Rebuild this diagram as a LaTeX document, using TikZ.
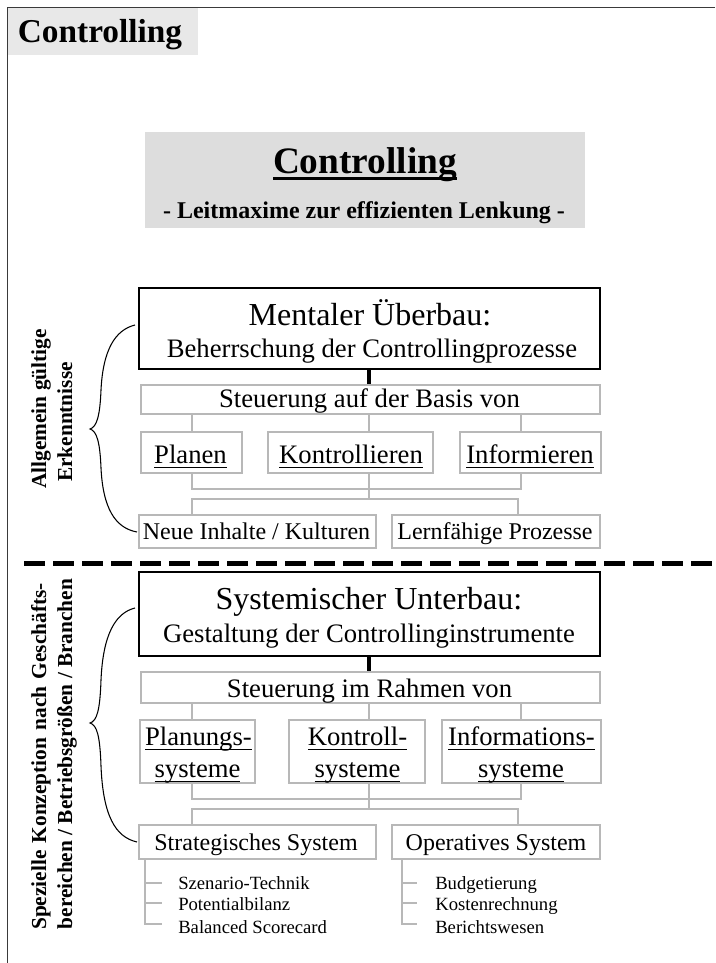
\documentclass[tikz,border=0pt]{standalone}
\usepackage{fontspec}
\setmainfont{Liberation Serif}
\usetikzlibrary{calc}

\definecolor{framegray}{HTML}{3A3A3A}
\definecolor{linegray}{HTML}{B8B8B8}
\definecolor{headfill}{HTML}{DDDDDD}
\definecolor{tabfill}{HTML}{E8E8E8}

% underline at a fixed distance below the baseline: text, drop, thickness
\newcommand\ulbox[3]{\sbox0{#1}\rlap{\rule[-#2]{\wd0}{#3}}\usebox0}

\tikzset{
  graybox/.style={draw=linegray, line width=2.2pt, fill=white, inner sep=0pt, rectangle},
  blackbox/.style={draw=black, line width=1.1pt, fill=white, inner sep=0pt, rectangle},
  link/.style={draw=linegray, line width=2.2pt},
  txt/.style={inner sep=0pt, anchor=base},
  big/.style={font=\fontsize{24}{28}\selectfont},
  mid/.style={font=\fontsize{20}{24}\selectfont},
  small/.style={font=\fontsize{18}{21}\selectfont},
  tiny/.style={font=\fontsize{14}{17}\selectfont},
  side/.style={inner sep=0pt, anchor=base, rotate=90, font=\bfseries\fontsize{16}{18}\selectfont},
  brace/.style={draw=black, line width=0.8pt},
}

\begin{document}
\begin{tikzpicture}[x=0.75pt, y=-0.75pt]
\useasboundingbox (0,0) rectangle (715,963);

% page tab and frame
\node[fill=tabfill, minimum width=142.5pt, minimum height=35.25pt, inner sep=0pt] (tab) at (102.5,31.5) {};
\node[txt, font=\bfseries\fontsize{25}{28}\selectfont] (tabtxt) at (100,43) {Controlling};
\draw[framegray, line width=1.3pt] (715,7.5) -- (7.5,7.5) -- (7.5,963);

% heading
\node[fill=headfill, minimum width=330pt, minimum height=72pt, inner sep=0pt] (head) at (365,180) {};
\node[txt, font=\bfseries\fontsize{28}{32}\selectfont] (headtxt) at (365,173) {\ulbox{Controlling}{5pt}{2.2pt}};
\node[txt, font=\bfseries\fontsize{18}{20}\selectfont] (headsub) at (364,218) {- Leitmaxime zur effizienten Lenkung -};

% column positions of the connectors
\coordinate (colA) at (192,0);
\coordinate (colB) at (369,0);
\coordinate (colC) at (521,0);
\coordinate (colD) at (518,0);
\coordinate (j1) at (0,489);
\coordinate (j2) at (0,499);
\coordinate (j3) at (0,799);
\coordinate (j4) at (0,809);

% ---------- upper block ----------
\node[blackbox, minimum width=345.75pt, minimum height=60.75pt] (ment) at (369.5,328.5) {};
\node[txt, big] (ment1) at (370,325) {Mentaler Überbau:};
\node[txt, mid] (ment2) at (372,357) {Beherrschung der Controllingprozesse};

\node[graybox, minimum width=344.25pt, minimum height=21.75pt] (steu1) at (370.5,399.5) {};
\node[txt, mid] (steu1t) at (369.5,407) {Steuerung auf der Basis von};

\node[graybox, minimum width=75.75pt, minimum height=30.75pt] (plan) at (191.5,452.5) {};
\node[txt, mid] (plant) at (190.5,463) {\ulbox{Planen}{3.8pt}{0.9pt}};
\node[graybox, minimum width=123.75pt, minimum height=30.75pt] (kont) at (350.5,452.5) {};
\node[txt, mid] (kontt) at (351,463) {\ulbox{Kontrollieren}{3.8pt}{0.9pt}};
\node[graybox, minimum width=105.75pt, minimum height=30.75pt] (info) at (530.5,452.5) {};
\node[txt, mid] (infot) at (530,463) {\ulbox{Informieren}{3.8pt}{0.9pt}};

\node[graybox, minimum width=177.75pt, minimum height=24.75pt] (neue) at (257.5,531.5) {};
\node[txt, small] (neuet) at (256.5,539) {Neue Inhalte / Kulturen};
\node[graybox, minimum width=156pt, minimum height=24.75pt] (lern) at (496,531.5) {};
\node[txt, small] (lernt) at (495,539) {Lernfähige Prozesse};

\draw[line width=2.4pt] (ment.south -| colB) -- (steu1.north -| colB);
\draw[link] (steu1.south -| colA) -- (plan.north -| colA);
\draw[link] (steu1.south -| colB) -- (kont.north -| colB);
\draw[link] (steu1.south -| colC) -- (info.north -| colC);
\draw[link] (plan.south -| colA) -- (colA |- j1) -- (colC |- j1) -- (info.south -| colC);
\draw[link] (kont.south -| colB) -- (colB |- j2);
\draw[link] (neue.north -| colA) -- (colA |- j2) -- (colD |- j2) -- (lern.north -| colD);

% separator
\draw[line width=3.2pt, dash pattern=on 16pt off 5.75pt] (24,563.5) -- (715,563.5);

% ---------- lower block ----------
\node[blackbox, minimum width=345.75pt, minimum height=63pt] (syst) at (369.5,614) {};
\node[txt, big] (syst1) at (369,609) {Systemischer Unterbau:};
\node[txt, mid] (syst2) at (369,642) {Gestaltung der Controllinginstrumente};

\node[graybox, minimum width=344.25pt, minimum height=23.25pt] (steu2) at (370.5,687.5) {};
\node[txt, mid] (steu2t) at (369.5,697) {Steuerung im Rahmen von};

\node[graybox, minimum width=86.25pt, minimum height=47.25pt] (plsy) at (197.5,751.5) {};
\node[txt, mid] (plsy1) at (198.5,745) {\ulbox{Planungs-}{3.8pt}{0.9pt}};
\node[txt, mid] (plsy2) at (197.5,777) {\ulbox{systeme}{3.8pt}{0.9pt}};
\node[graybox, minimum width=102pt, minimum height=47.25pt] (kosy) at (357,751.5) {};
\node[txt, mid] (kosy1) at (357.5,745) {\ulbox{Kontroll-}{3.8pt}{0.9pt}};
\node[txt, mid] (kosy2) at (357.5,777) {\ulbox{systeme}{3.8pt}{0.9pt}};
\node[graybox, minimum width=119.25pt, minimum height=47.25pt] (insy) at (521.5,751.5) {};
\node[txt, mid] (insy1) at (521.5,745) {\ulbox{Informations-}{3.8pt}{0.9pt}};
\node[txt, mid] (insy2) at (521,777) {\ulbox{systeme}{3.8pt}{0.9pt}};

\node[graybox, minimum width=177.75pt, minimum height=25.5pt] (strat) at (257.5,842) {};
\node[txt, small] (stratt) at (256,850) {Strategisches System};
\node[graybox, minimum width=156pt, minimum height=25.5pt] (oper) at (496,842) {};
\node[txt, small] (opert) at (496,850) {Operatives System};

\draw[line width=2.4pt] (syst.south -| colB) -- (steu2.north -| colB);
\draw[link] (steu2.south -| colA) -- (plsy.north -| colA);
\draw[link] (steu2.south -| colB) -- (kosy.north -| colB);
\draw[link] (steu2.south -| colC) -- (insy.north -| colC);
\draw[link] (plsy.south -| colA) -- (colA |- j3) -- (colC |- j3) -- (insy.south -| colC);
\draw[link] (kosy.south -| colB) -- (colB |- j4);
\draw[link] (strat.north -| colA) -- (colA |- j4) -- (colD |- j4) -- (oper.north -| colD);

% item lists under the two systems
\node[txt, tiny, anchor=base west] (sz) at (178,889) {Szenario-Technik};
\node[txt, tiny, anchor=base west] (pb) at (178,910) {Potentialbilanz};
\node[txt, tiny, anchor=base west] (bs) at (178,933) {Balanced Scorecard};
\node[txt, tiny, anchor=base west] (bu) at (435,889) {Budgetierung};
\node[txt, tiny, anchor=base west] (kr) at (435,910) {Kostenrechnung};
\node[txt, tiny, anchor=base west] (bw) at (435,933) {Berichtswesen};

\coordinate (railA) at (145,0);
\coordinate (tA1) at (162,883);
\coordinate (tA2) at (162,903);
\coordinate (tA3) at (162,924);
\coordinate (railB) at (402,0);
\coordinate (tB1) at (417,883);
\coordinate (tB2) at (417,903);
\coordinate (tB3) at (417,924);
\draw[link] (strat.south -| railA) |- (tA3);
\draw[link] (railA |- tA1) -- (tA1);
\draw[link] (railA |- tA2) -- (tA2);
\draw[link] (oper.south -| railB) |- (tB3);
\draw[link] (railB |- tB1) -- (tB1);
\draw[link] (railB |- tB2) -- (tB2);

% braces and side captions
\draw[brace] (135,325) .. controls (115,330) and (103,350) .. (101,390)
  .. controls (100,415) and (97,427) .. (90,429)
  .. controls (97,431) and (100,443) .. (101,468)
  .. controls (103,508) and (115,528) .. (137,532);
\draw[brace] (135,608) .. controls (115,613) and (103,635) .. (101,680)
  .. controls (100,710) and (97,721) .. (90,723)
  .. controls (97,725) and (100,736) .. (101,766)
  .. controls (103,815) and (115,837) .. (137,842);

\node[side] (cap1) at (46,409) {Allgemein gültige};
\node[side] (cap2) at (72,422) {Erkenntnisse};
\node[side] (cap3) at (46,756.5) {\makebox[260pt][s]{Spezielle Konzeption nach Geschäfts-}};
\node[side] (cap4) at (72,754) {bereichen / Betriebsgrößen / Branchen};

\end{tikzpicture}
\end{document}
